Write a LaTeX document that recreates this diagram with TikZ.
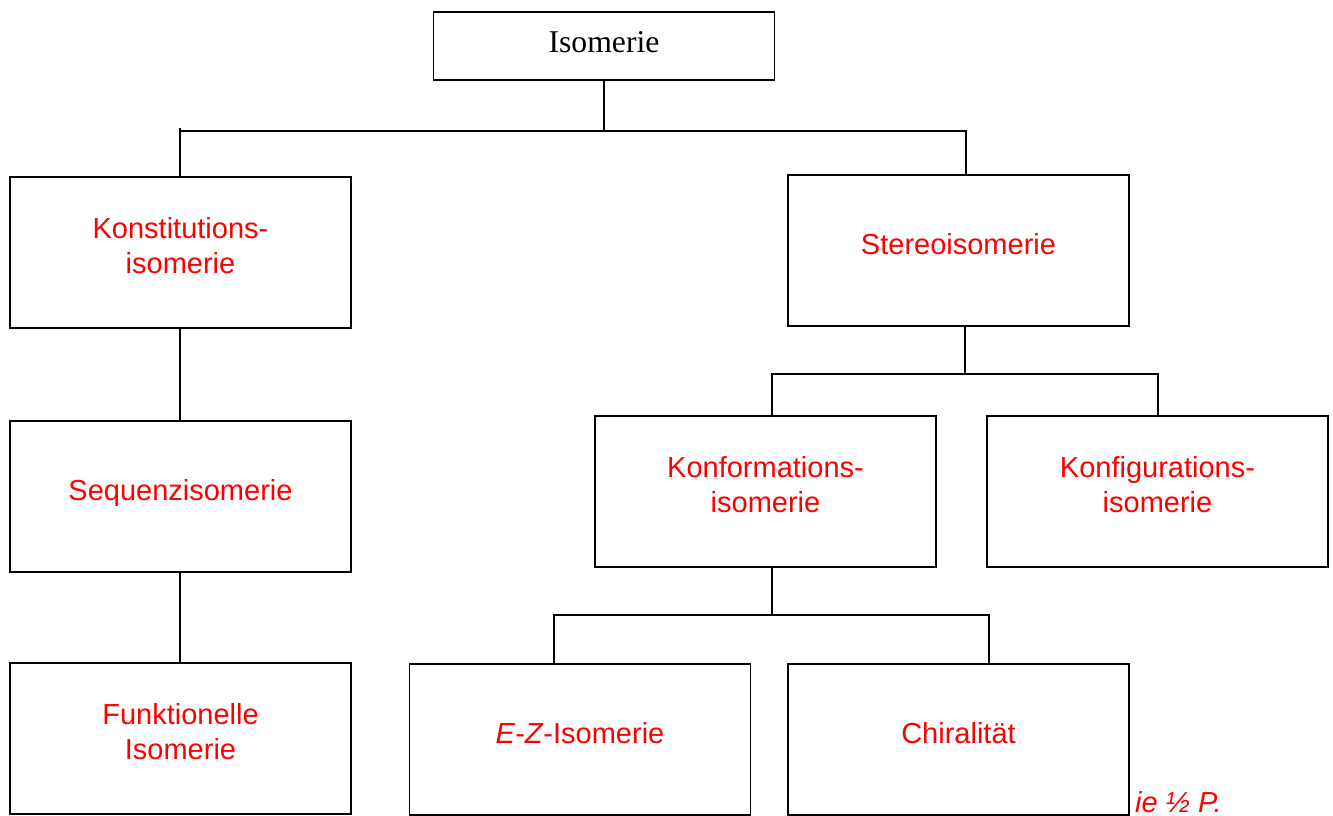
\documentclass[tikz,border=0pt]{standalone}
\usepackage{fontspec}
\setmainfont{Liberation Sans}
\newfontfamily\timesfont{Liberation Serif}
\usetikzlibrary{positioning}

\begin{document}
\begin{tikzpicture}[x=1pt, y=-1pt,
  box/.style={draw, line width=1.3pt, minimum width=341pt, minimum height=151pt,
    inner sep=0pt, align=center, text depth=14pt, text=red,
    font=\fontsize{29}{35}\selectfont},
  tree/.style={line width=1.3pt}]
\useasboundingbox (0,0) rectangle (1333,816);
\node[box, minimum height=68pt, text=black, text depth=7pt,
  font=\timesfont\fontsize{31.7}{36}\selectfont] (iso) at (604,46) {Isomerie};
\node[box] (konst) at (180.5,252.5) {Konstitutions-\\isomerie};
\node[box] (seq) at (180.5,496.5) {Sequenzisomerie};
\node[box] (funk) at (180.5,738.5) {Funktionelle\\Isomerie};
\node[box] (stereo) at (958.5,250.5) {Stereoisomerie};
\node[box] (konform) at (765.5,491.5) {Konformations-\\isomerie};
\node[box] (konfig) at (1157.5,491.5) {Konfigurations-\\isomerie};
\node[box] (ez) at (580,739.5) {\textit{E}-\textit{Z}-Isomerie};
\node[box] (chiral) at (958.5,739.5) {Chiralität};
\node[text=red, inner sep=0pt, anchor=base west,
  font=\fontsize{29}{35}\selectfont\itshape] (punkte) at (1135,812) {ie ½ P.};
% verbindungen
\coordinate (busL) at (180,128);
\coordinate (busR) at (966,131);
\draw[tree] (iso.south) -- (iso.south |- busR);
\draw[tree] (busL |- busR) -- (busR) -- (busR |- stereo.north);
\draw[tree] (busL) -- (busL |- konst.north);
\draw[tree] (busL |- konst.south) -- (busL |- seq.north);
\draw[tree] (busL |- seq.south) -- (busL |- funk.north);
\coordinate (b2) at (965,374);
\coordinate (b2l) at (772,374);
\coordinate (b2r) at (1158,374);
\draw[tree] (b2 |- stereo.south) -- (b2);
\draw[tree] (b2l |- konform.north) -- (b2l) -- (b2r) -- (b2r |- konfig.north);
\coordinate (b3) at (772,615);
\coordinate (b3l) at (554,615);
\coordinate (b3r) at (989,615);
\draw[tree] (b3 |- konform.south) -- (b3);
\draw[tree] (b3l |- ez.north) -- (b3l) -- (b3r) -- (b3r |- chiral.north);
\end{tikzpicture}
\end{document}
